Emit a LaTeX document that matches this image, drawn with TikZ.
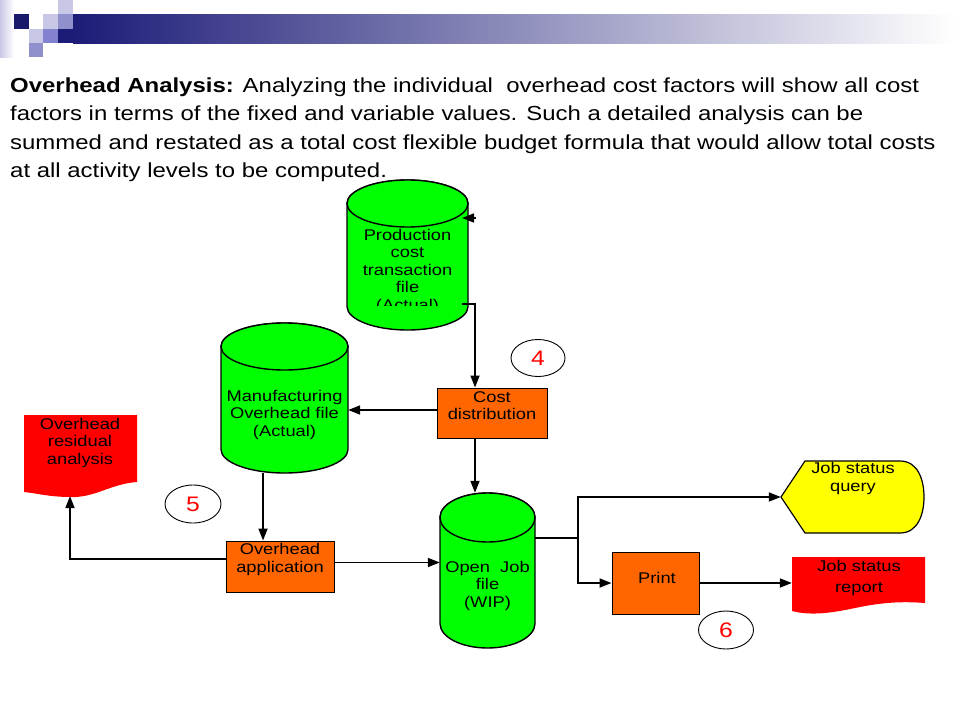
\documentclass[tikz,border=0pt]{standalone}
\usepackage{fontspec}
\setmainfont{Liberation Sans}[FakeStretch=1.18]
\usetikzlibrary{arrows.meta,shapes.geometric}

\definecolor{drumgreen}{HTML}{00FF00}
\definecolor{procorange}{HTML}{FF6600}
\definecolor{docred}{HTML}{FF0000}
\definecolor{queryyellow}{HTML}{FFFF00}
\definecolor{barnavy}{HTML}{1C1C78}
\definecolor{palelav}{HTML}{C8C8E6}
\definecolor{midlav}{HTML}{9090CC}

\begin{document}
\begin{tikzpicture}[x=1pt,y=-1pt,
  every node/.style={inner sep=0pt,align=center,font=\fontsize{15.5}{17.5}\selectfont},
  area/.style={minimum width=#1},
  proc/.style={rectangle,draw=black,line width=1pt,fill=procorange},
  drum/.style={draw=black,line width=1.4pt,fill=drumgreen},
  tag/.style={ellipse,draw=black,line width=0.9pt,fill=white,text=red,font=\fontsize{21}{21}\selectfont},
  body/.style={anchor=base west,font=\fontsize{20.3}{24}\selectfont},
  conn/.style={line width=1.7pt,-{Triangle[length=12pt,width=9pt]}}]
\useasboundingbox (0,0) rectangle (960,720);

% header bar
\shade[left color=palelav,right color=white] (0,0) rectangle (14,57);
\fill[barnavy!90!black] (14,14) rectangle (29,29);
\fill[palelav] (58,0) rectangle (73,14);
\fill[palelav] (43,14) rectangle (58,29);
\fill[midlav] (58,14) rectangle (73,29);
\fill[palelav] (29,29) rectangle (43,43);
\fill[midlav!90!blue] (43,29) rectangle (58,43);
\fill[midlav] (29,43) rectangle (43,57);
\fill[barnavy] (58,29) rectangle (73,43);
\shade[left color=barnavy,right color=white] (73,14) rectangle (955,43);

% text
\node (line1) [body] at (10,92.3)
  {\textbf{Overhead Analysis:} Analyzing the individual\ \ overhead cost factors will show all cost};
\node (line2) [body] at (10,120.8)
  {factors in terms of the fixed and variable values. Such a detailed analysis can be};
\node (line3) [body] at (10,149.3)
  {summed and restated as a total cost flexible budget formula that would allow total costs};
\node (line4) [body] at (10,177.8)
  {at all activity levels to be computed.};

% files
\filldraw[drum] (347,203.5) -- (347,306.5) arc[start angle=180,end angle=360,x radius=60.5pt,y radius=23.5pt]
  -- (468,203.5) arc[start angle=0,end angle=180,x radius=60.5pt,y radius=23.5pt] -- cycle;
\draw[drum] (407.5,203.5) ellipse[x radius=60.5pt,y radius=23.5pt];
\node (prod) [area=121,minimum height=150] at (407.5,255) {};
\begin{scope}
\clip (340,225) rectangle (475,305.5);
\node (prodtext) at (407.5,271) {Production\\cost\\transaction\\file\\(Actual)};
\end{scope}

\filldraw[drum] (221,346.5) -- (221,449.5) arc[start angle=180,end angle=360,x radius=63.5pt,y radius=23.5pt]
  -- (348,346.5) arc[start angle=0,end angle=180,x radius=63.5pt,y radius=23.5pt] -- cycle;
\draw[drum] (284.5,346.5) ellipse[x radius=63.5pt,y radius=23.5pt];
\node (mfg) [area=127,minimum height=150] at (284.5,398) {};
\node (mfgtext) at (284.5,414.5) {Manufacturing\\Overhead file\\(Actual)};

\filldraw[drum] (440,517.5) -- (440,623.5) arc[start angle=180,end angle=360,x radius=47.5pt,y radius=24.5pt]
  -- (535,517.5) arc[start angle=0,end angle=180,x radius=47.5pt,y radius=24.5pt] -- cycle;
\draw[drum] (487.5,517.5) ellipse[x radius=47.5pt,y radius=24.5pt];
\node (open) [area=95,minimum height=155] at (487.5,570.5) {};
\node (opentext) at (487.5,585.5) {Open\ \ Job\\file\\(WIP)};

% processes
\node (cost) [proc,area=110,minimum height=50] at (492,413) {};
\node (costtext) at (492,405.5) {Cost\\distribution};
\node (ovh) [proc,area=108,minimum height=51] at (280,566.5) {};
\node (ovhtext) at (280,559.5) {Overhead\\application};
\node (print) [proc,area=87,minimum height=62] at (655.5,583) {};
\node (printtext) at (657,578) {Print};

% outputs
\fill[docred] (24,415) -- (137,415) -- (137,482) .. controls (110,484) and (95,498) .. (70,497)
  .. controls (50,497) and (35,493) .. (24,492) -- cycle;
\node (resid) [area=113,minimum height=78] at (80.5,454) {};
\node (residtext) at (80,442.5) {Overhead\\residual\\analysis};

\filldraw[draw=black,line width=1.2pt,fill=queryyellow] (781,497) -- (805,461) -- (900,461)
  .. controls (918,461) and (924,480) .. (924,497) .. controls (924,514) and (918,533) .. (900,533)
  -- (805,533) -- cycle;
\node (query) [area=143,minimum height=72] at (852.5,497) {};
\node (querytext) at (853,478.5) {Job status\\query};

\fill[docred] (792,557) -- (925,557) -- (925,603) .. controls (900,601) and (880,603) .. (860,607)
  .. controls (840,611) and (815,617) .. (792,611) -- cycle;
\node (report) [area=133,minimum height=55] at (858.5,584.5) {};
\node (reporttext) [font=\fontsize{15.5}{21}\selectfont] at (859,577.5) {Job status\\report};

% step numbers
\node (four) [tag,minimum width=54,minimum height=37] at (538,358) {4};
\node (five) [tag,minimum width=56,minimum height=38] at (193,504) {5};
\node (six) [tag,minimum width=55,minimum height=38] at (726,630) {6};

% connectors
\coordinate (prodout) at (462,304);
\coordinate (pbend) at (475,304);
\coordinate (pstray) at (476,218);
\coordinate (ptip) at (462,218);
\coordinate (mx) at (263,480);
\coordinate (residin) at (70,496);
\coordinate (split) at (578,538);
\draw[conn] (pstray) -- (ptip);
\draw[conn] (prodout) -- (pbend) -- (pbend |- cost.north);
\draw[conn] ([yshift=3pt]cost.west) -- ([yshift=3pt]cost.west -| mfg.east);
\draw[conn] (cost.south -| pbend) -- (open.north -| pbend);
\draw[conn] (mx |- mfg.south) -- (mx |- ovh.north);
\draw[conn] ([yshift=4pt]ovh.east) -- ([yshift=4pt]ovh.east -| open.west);
\draw[conn] ([yshift=7.5pt]ovh.west) -| (residin);
\draw[line width=1.5pt] (open.east |- split) -- (split);
\draw[conn] (split) |- (query.west);
\draw[conn] (split) |- (print.west);
\draw[conn] (print.east) -- (print.east -| report.west);
\end{tikzpicture}
\end{document}
